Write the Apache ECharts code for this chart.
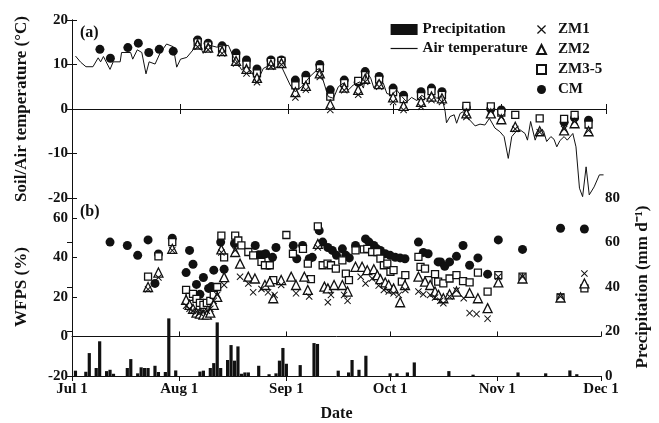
<!DOCTYPE html>
<html>
<head>
<meta charset="utf-8">
<script src="https://cdn.jsdelivr.net/npm/echarts@6/dist/echarts.min.js"></script>
<style>
  html, body { margin: 0; padding: 0; background: #fff; }
  #chart { width: 659px; height: 423px; }
</style>
</head>
<body>
<div id="chart"></div>
<script>
// x values are days after Jul 1
const monthDays = [0, 31, 62, 92, 123, 153];
const monthLabels = ['Jul 1', 'Aug 1', 'Sep 1', 'Oct 1', 'Nov 1', 'Dec 1'];

// (a) air temperature, degC
const airTemp = [[1,11.9],[2.5,10.5],[4,9.5],[6,9.5],[7.5,11.5],[8.2,10.6],[9,11.8],[10.9,8.9],[11.8,10.6],[13.8,10.6],[14.2,12.7],[16.8,12.7],[17.4,11.2],[18.7,13.3],[20,12.7],[21.2,7.9],[22.1,10.6],[23.8,10.1],[25.2,12.5],[27.1,14.6],[29,14.0],[30,9.4],[31.1,11.2],[32.9,11.6],[34.8,13.4],[35.9,15.5],[37.6,12.5],[39,14.4],[41.5,13.9],[43.4,14.2],[44.8,14.3],[46.2,11.8],[47.2,10.6],[48.6,8.8],[50,9.5],[51.5,8.4],[52.9,5.8],[54.8,9.1],[56.7,9.9],[58.2,9.4],[60.1,9.4],[62.5,5.4],[63.9,3.9],[65.8,5.0],[68.2,7.3],[70.6,9.1],[71.5,7.6],[73.4,2.8],[74.9,2.4],[76.3,5.0],[77.7,5.8],[79.2,4.3],[80.6,5.4],[82.5,6.1],[83.5,4.7],[84.4,8.4],[85.6,6.9],[86.5,4.7],[87.8,6.5],[89.2,5.8],[90.2,3.5],[91.6,3.1],[93,4.3],[94.5,2.8],[95.9,1.6],[97.3,2.6],[98.8,1.9],[100.2,3.1],[101.6,2.2],[103.1,3.5],[104.5,2.4],[105.9,2.9],[106.9,-0.5],[107.3,-3.1],[108.3,-1.7],[109.5,-1.3],[110.2,-3.2],[111.2,-1.0],[112.1,-0.6],[114,-2.5],[115.5,-3.8],[116.9,-3.4],[118.3,-3.6],[119.6,-2.1],[121.2,-4.3],[122.6,-5.1],[123.8,-6.2],[125,-11.1],[126,-6.2],[127.2,-5.1],[128.4,-4.7],[129.8,-5.5],[130.5,-7.0],[131.4,-2.8],[132.7,-7.0],[133.8,-4.7],[135.1,-4.9],[136,-7.3],[137.2,-6.2],[138.1,-6.8],[138.9,-8.5],[139.8,-7.1],[141,-6.2],[141.9,-7.0],[143.5,-5.5],[144.4,-8.5],[145.4,-17.8],[146.3,-19.7],[147.3,-13.0],[148.2,-19.3],[149.6,-17.5],[151.1,-14.8],[152.3,-14.8]];

// (a) soil temperature, degC
const soilCM = [[8,13.4],[11,11.4],[16,13.8],[19,14.8],[22,12.7],[25,13.4],[29,13.0],[36,15.5],[39,14.8],[43,14.2],[47,12.6],[50,11],[53,9],[57,11],[60,11],[64,6.5],[67,7.6],[71,10],[74,4.3],[78,6.5],[82,6.0],[84,8.4],[88,7.3],[92,4.7],[95,3.1],[100,3.9],[103,4.7],[106,3.9],[113,0.3],[120,0],[123,-0.2],[141,-3.0],[144,-2.0],[148,-2.5]];
const soilZM35 = [[36,15],[39,14.3],[43,13.6],[47,11.5],[50,10],[53,8],[57,10.6],[60,10.8],[64,5.3],[67,6.5],[71,9.2],[74,2.8],[78,5.8],[82,6.3],[84,7.6],[88,6.6],[92,3.8],[95,2.2],[100,2.9],[103,4.0],[106,3.2],[113,0.7],[120,0.6],[123,-0.8],[127,-1.3],[134,-2.1],[141,-2.2],[144,-1.3],[148,-3.5]];
const soilZM2 = [[36,14.5],[39,13.8],[43,13.0],[47,10.8],[50,9],[53,7],[57,10],[60,10.3],[64,3.8],[67,5.2],[71,8],[74,1],[78,4.8],[82,4.3],[84,6.8],[88,5.6],[92,2.6],[95,0.7],[100,1.6],[103,2.8],[106,2.4],[113,-1.0],[120,-1.0],[123,-2.3],[127,-4.0],[134,-5.0],[141,-4.8],[144,-3.2],[148,-5.0]];
const soilZM1 = [[36,14],[39,13.3],[43,12.5],[47,10.2],[50,8],[53,6],[57,9.5],[60,10],[64,2.6],[67,4.3],[71,7.2],[74,-0.2],[78,4.2],[82,3.2],[84,6.1],[88,5],[92,1.6],[95,-0.2],[100,0.5],[103,2.0],[106,1.6],[113,-1.8],[120,-0.5],[123,-1.8],[127,-4.5],[134,-5.2],[141,-4.5],[144,-2.8],[148,-4.8]];

// (b) WFPS, %
const wfpsCM = [[11,47.7],[16,46],[19,41],[22,48.8],[24,26.8],[25,41.7],[29,49.7],[33,32.3],[34,43.5],[35,36.5],[36,26.3],[37,21.3],[38,29.8],[39.5,24.3],[40.3,25.2],[41,33.5],[43,47.7],[44,34],[47,47],[53,46],[54,41.3],[55,41.3],[56,41.8],[57,36],[58,40],[59,45],[64,46],[65,39.3],[66.7,46],[68.6,39.3],[69.5,40],[71.5,53.5],[72.5,47.7],[74,45],[75.3,43.5],[76.5,41],[78.2,44.3],[79.2,41],[80.2,39.7],[82,46],[84.9,49.3],[85.9,47.7],[87.3,46],[88.2,44.3],[89.2,43.5],[90.6,41.8],[92,41],[93.5,40],[94.9,39.7],[96.3,39.3],[100.2,47.7],[101.6,42.5],[103,41.8],[105.9,37.7],[106.6,37.7],[107.8,35.5],[109.2,37.7],[111.2,40.5],[113.1,46],[115,36],[117.4,39.7],[120.2,31.5],[123.3,48.8],[130.3,44],[141.3,54.7],[148.2,54.3]];
const wfpsZM35 = [[22,30.2],[25,40.5],[29,47.7],[33,23.5],[34,20],[35,21.5],[36,19],[37,17],[38,16],[39,17],[40,18],[41,21],[42,25],[43.2,51],[44,40],[47.2,51],[48.1,48.5],[49,46],[51,42.7],[52.4,41],[54.8,37.7],[55.8,36],[57.2,36],[58.2,28.5],[62,51.3],[63.9,41.8],[66.8,44.3],[68.2,36.8],[69.1,29],[71.1,55.7],[72.5,36],[73.9,36.8],[74.9,36],[76.3,34.3],[78.2,38.5],[79.2,31.8],[80.1,28.5],[82,43.5],[84.4,44],[85.4,44.3],[86.8,42.7],[88.3,42.7],[89.2,39.3],[90.2,36],[91.2,36.8],[92.1,32.7],[93,33.5],[95.4,27.7],[96.4,31],[100.2,40.2],[100.8,35.2],[102.1,34.3],[103.1,28.5],[105,31.5],[105.9,27.7],[107.4,26.8],[109.2,29.3],[111.2,31],[113.1,28],[115,27.3],[117.4,32.3],[120.2,22.7],[123.3,31],[130.3,30.2],[141.3,19.7],[148.2,24.3]];
const wfpsZM2 = [[22,25],[25,32.3],[29,44.3],[33,18.5],[34,16],[35,14],[36,12],[37,11.5],[38,11],[39,11],[40,12],[41,16],[42,20],[43.2,44],[44,30],[47.2,42.7],[48.6,36.8],[51,30.2],[52.9,29.3],[55.8,26],[57.2,27.7],[58.2,19.3],[60.5,28.5],[63.4,30.2],[64.8,26],[67.2,30.2],[68.2,23.5],[71.1,46.8],[73,25.2],[74,24.3],[75.8,26],[78.2,26],[79.7,22.7],[82,35.2],[83.9,35.2],[85.4,33.5],[87.3,34],[88.3,31],[89.2,29],[90.6,27.3],[91.6,26],[93,24.3],[94.9,17.3],[96.3,26],[100.2,30.2],[102.1,27.7],[103.6,26],[105,22.7],[106,21],[107.4,19.3],[109.2,21.3],[111.2,22.7],[115,22],[117.4,19.3],[120.2,14.3],[123.3,27.3],[130.3,29.3],[141.3,19.7],[148.2,26.8]];
const wfpsZM1 = [[22,23.8],[25,29.8],[29,43.5],[33,15.5],[34,14],[35,13],[36,12.5],[37,12],[38,12.5],[39,13],[40,14],[41,18],[42,21],[43.2,42.5],[44,26],[47.2,43.5],[48.6,30.2],[51,26.8],[52.4,22.3],[54.8,24],[56.7,22.3],[58.6,21],[60.5,26],[64.8,21.8],[68.6,20.2],[71.1,45],[74,17.3],[74.9,21],[78.7,21],[79.7,18],[83.5,30.2],[84.9,26.8],[86.8,29.3],[88.7,25.7],[90.2,23.5],[91.6,22.7],[93,21.8],[94.5,21],[96.4,23.5],[100.2,22.7],[101.6,21.3],[103.6,21],[105,19.7],[106.5,18],[107.4,16.8],[109.2,20.2],[111.2,23.2],[113.3,19.3],[115,11.8],[117,11.3],[120.2,9],[123.3,30.2],[130.3,30.2],[141.3,20.2],[148.2,31.8]];

// (b) precipitation, mm/d
const precip = [[1,2.4],[4,1.9],[5,10.3],[7,3.6],[8,15.6],[10,2.2],[11,2.8],[12,1],[16,3.6],[17,7.6],[19,1.2],[20,3.9],[21,3.6],[22,3.6],[24,4.6],[25,1.8],[27,1.8],[28,25.9],[30,2.5],[37,2],[38,2.4],[40,3.6],[41,5.8],[42,24.1],[43,3.6],[45,7.2],[46,13.9],[47,6.9],[48,13.3],[49,1],[50,1.6],[51,1.6],[54,4.6],[57,0.8],[59,1.2],[60,6.9],[61,12.6],[62,5.5],[66,4.9],[70,14.8],[71,14.4],[77,2.4],[80,1.6],[81,7.2],[83,2.8],[85,9.1],[92,1.2],[94,1.2],[97,1.6],[99,6.1],[109,2.2],[116,0.6],[129,1.6],[137,1.2],[144,2.5],[146,0.8]];

const ink = '#111';
const font = 'Liberation Serif';
const crossPath = 'path://M0,1L1,0L5,4L9,0L10,1L6,5L10,9L9,10L5,6L1,10L0,9L4,5Z';

const labelStyle = { color: ink, fontFamily: font, fontWeight: 'bold', fontSize: 15 };
const nameStyle = { color: ink, fontFamily: font, fontWeight: 'bold', fontSize: 17 };

function xAxis(grid, position, showLabel) {
    return {
        type: 'value', gridIndex: grid, position: position,
        min: 0, max: 153,
        axisLine: { lineStyle: { color: ink, width: 1 } },
        axisTick: { inside: true, length: 5, customValues: monthDays, lineStyle: { color: ink } },
        axisLabel: {
            show: showLabel, customValues: monthDays, margin: 6,
            formatter: v => monthLabels[monthDays.indexOf(v)],
            ...labelStyle
        },
        splitLine: { show: false }
    };
}

function yAxis(grid, position, min, max, interval, showLabel) {
    return {
        type: 'value', gridIndex: grid, position: position,
        min: min, max: max, interval: interval,
        axisLine: { show: true, lineStyle: { color: ink, width: 1 } },
        axisTick: { show: true, inside: true, length: 5, lineStyle: { color: ink } },
        axisLabel: { show: showLabel, margin: 4, showMaxLabel: max !== 70, ...labelStyle },
        splitLine: { show: false },
        nameLocation: 'middle',
        nameTextStyle: nameStyle
    };
}

const axesX = [xAxis(0, 'bottom', false), xAxis(0, 'top', false), xAxis(1, 'bottom', true), xAxis(1, 'top', false)];
axesX[2].name = 'Date';
axesX[2].nameLocation = 'middle';
axesX[2].nameGap = 30;
axesX[2].nameTextStyle = { ...nameStyle, fontSize: 16 };

const axesY = [
    yAxis(0, 'left', -20, 20, 10, true),
    yAxis(0, 'right', -20, 20, 10, false),
    yAxis(1, 'left', -20, 70, 20, true),
    yAxis(1, 'right', 0, 80, 20, true)
];
axesY[0].name = 'Soil/Air temperature (°C)';
axesY[0].nameGap = 42;
axesY[2].name = 'WFPS (%)';
axesY[2].nameGap = 42;
axesY[3].name = 'Precipitation (mm d⁻¹)';
axesY[3].nameGap = 33;
axesY[3].nameRotate = 90;

const styles = {
    'CM': { symbol: 'circle', symbolSize: 9, itemStyle: { color: ink, opacity: 1 } },
    'ZM3-5': { symbol: 'rect', symbolSize: 7, itemStyle: { color: '#fff', borderColor: ink, borderWidth: 1.3, opacity: 1 } },
    'ZM2': { symbol: 'triangle', symbolSize: 9, itemStyle: { color: '#fff', borderColor: ink, borderWidth: 1.3, opacity: 1 } },
    'ZM1': { symbol: crossPath, symbolSize: 7, itemStyle: { color: ink, opacity: 1 } }
};

function scatter(name, data, grid) {
    return {
        name: name, type: 'scatter', data: data,
        xAxisIndex: grid * 2, yAxisIndex: grid * 2,
        ...styles[name]
    };
}

const legendText = { color: ink, fontFamily: font, fontWeight: 'bold', fontSize: 15 };

const chart = echarts.init(document.getElementById('chart'));
chart.setOption({
    animation: false,
    grid: [
        { left: 72, top: 20, right: 53, height: 178 },
        { left: 72, top: 198, right: 53, height: 179 }
    ],
    xAxis: axesX,
    yAxis: axesY,
    legend: [
        {
            data: [
                { name: 'Precipitation', icon: 'rect' },
                { name: 'Air temperature', itemStyle: { opacity: 0 }, lineStyle: { color: ink, width: 1.2 } }
            ],
            orient: 'vertical', left: 385, top: 17, itemWidth: 27, itemHeight: 11, itemGap: 4,
            textStyle: { ...legendText, padding: [0, 0, 0, 0] }
        },
        {
            data: ['ZM1', 'ZM2', 'ZM3-5', 'CM'],
            orient: 'vertical', left: 531, top: 17, itemWidth: 9, itemHeight: 9, itemGap: 5,
            textStyle: { ...legendText, padding: [0, 0, 0, 7] }
        }
    ],
    graphic: [
        { type: 'text', left: 80, top: 25, style: { text: '(a)', font: 'bold 16px "Liberation Serif"', fill: ink } },
        { type: 'text', left: 80, top: 204, style: { text: '(b)', font: 'bold 16px "Liberation Serif"', fill: ink } }
    ],
    series: [
        {
            name: 'Precipitation', type: 'bar', data: precip,
            xAxisIndex: 2, yAxisIndex: 3, barWidth: 3.2,
            itemStyle: { color: ink }
        },
        {
            name: 'Air temperature', type: 'line', data: airTemp,
            xAxisIndex: 0, yAxisIndex: 0, symbol: 'none',
            itemStyle: { color: ink },
            lineStyle: { color: ink, width: 1 }
        },
        scatter('CM', soilCM, 0),
        scatter('ZM3-5', soilZM35, 0),
        scatter('ZM2', soilZM2, 0),
        scatter('ZM1', soilZM1, 0),
        scatter('CM', wfpsCM, 1),
        scatter('ZM3-5', wfpsZM35, 1),
        scatter('ZM2', wfpsZM2, 1),
        scatter('ZM1', wfpsZM1, 1)
    ]
});
</script>
</body>
</html>
